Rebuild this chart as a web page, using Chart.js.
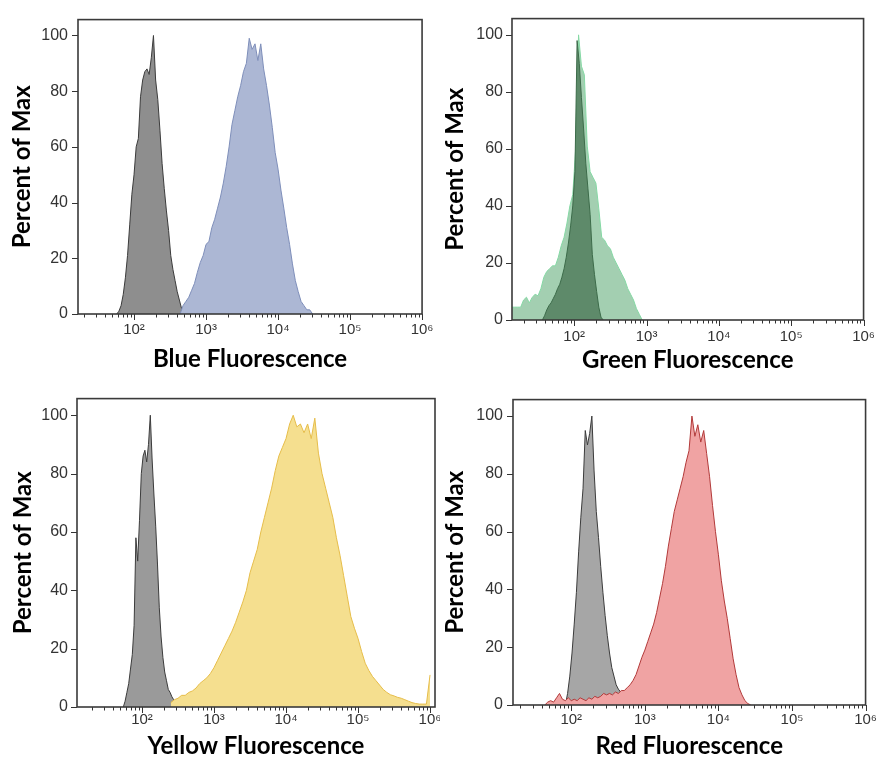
<!DOCTYPE html>
<html><head><meta charset="utf-8">
<script src="https://cdn.jsdelivr.net/npm/chart.js@4.4.1/dist/chart.umd.min.js"></script>
<style>
html,body{margin:0;padding:0;background:#fff;}
body{width:883px;height:761px;position:relative;overflow:hidden;}
canvas{position:absolute;display:block;}
</style></head><body>
<canvas id="c1" width="440" height="380" style="left:0;top:0;width:440px;height:380px"></canvas>
<canvas id="c2" width="443" height="380" style="left:440px;top:0;width:443px;height:380px"></canvas>
<canvas id="c3" width="440" height="381" style="left:0;top:380px;width:440px;height:381px"></canvas>
<canvas id="c4" width="443" height="381" style="left:440px;top:380px;width:443px;height:381px"></canvas>
<script>
// ---- tick labels ----
const xTickExponents = [2, 3, 4, 5, 6];
const xTickLabels = ['10²', '10³', '10⁴', '10⁵', '10⁶'];
const yTickValues = [0, 20, 40, 60, 80, 100];
const yTitle = 'Percent of Max';
const xTitles = ['Blue Fluorescence', 'Green Fluorescence', 'Yellow Fluorescence', 'Red Fluorescence'];

// ---- histogram bins: first bin (log10 of fluorescence), bin width (log10), percent of max ----
const blueCtrlBin = [1.76, 0.03];
const blueCtrlPct = [0, 1, 3, 7, 13, 21, 32, 43, 50, 60, 63, 78, 84, 87, 88, 86, 92, 100, 84, 77, 66, 54, 45, 37, 30, 21, 16, 12, 8, 5, 2, 0.5, 0];
const blueSampleBin = [2.64, 0.04];
const blueSamplePct = [0, 3, 4.5, 6, 8.5, 11, 15, 18.5, 21, 25, 26, 31, 34, 38, 42, 47, 53, 60, 68, 73, 78, 82, 87, 90, 99, 95, 97, 91, 97, 88, 82, 75, 67, 58, 52, 44.5, 38, 31, 25, 18, 12, 8, 4.5, 3, 1.5, 1.5, 0];

const greenCtrlBin = [1.56, 0.03];
const greenCtrlPct = [0, 1.5, 3.5, 5, 6, 7.5, 9, 11, 12.5, 15, 18, 22, 27, 33, 40, 52, 98, 90, 78, 67, 55, 46, 37, 23, 16, 10, 4.5, 1, 0];
const greenSampleBin = [1.14, 0.04];
const greenSamplePct = [4.5, 4.5, 4.5, 4.5, 7, 8, 6, 8, 9, 8.5, 11, 15, 17, 18, 19, 19, 22, 26, 29, 34, 40, 44, 60, 100, 89, 86, 61, 52, 50, 48, 39, 29, 28, 26, 25, 22, 20, 18, 16, 14, 11, 9, 7, 4, 2, 0];

const yellowCtrlBin = [1.74, 0.025];
const yellowCtrlPct = [0, 2, 5, 8, 13, 18, 28, 58, 50, 64, 80, 86, 88, 84, 90, 100, 85, 73, 62, 49, 34, 24, 17, 12, 9, 6, 5, 3.5, 2.5, 1.5, 0.5, 0];
const yellowSampleBin = [2.40, 0.05];
const yellowSamplePct = [1.5, 2.5, 3, 4, 4, 5, 5.5, 6.5, 8, 9, 10, 11.5, 13.5, 16, 18.5, 21, 23.5, 26, 29, 32.5, 36, 40, 46, 50, 54, 60, 65, 70, 75, 81, 86, 89, 92, 97, 100, 96, 97, 94, 97, 92, 99, 87, 80, 75, 70, 65, 58, 52, 45, 38, 31, 27, 23.5, 19, 15, 12.5, 10.5, 9, 7.5, 6, 5, 4.2, 3.8, 3.3, 3, 2.5, 2, 1.5, 1.2, 1, 1, 1, 11];

const redCtrlBin = [1.92, 0.03];
const redCtrlPct = [0, 4, 10, 18, 28, 39, 53, 65, 75, 95, 90, 94, 100, 81, 67, 58, 48, 39, 31, 24, 18, 13, 10, 7, 5.5, 4.5, 3.5, 2, 0];
const redSampleBin = [1.64, 0.04];
const redSamplePct = [0, 1, 1.5, 1, 2.5, 4, 2, 1.5, 2.5, 1.5, 2, 1.5, 2.5, 2, 1.5, 2.5, 2, 3, 2.5, 3, 4, 3.5, 4, 3.5, 4.5, 4, 5, 5, 6, 7, 8.5, 10.5, 13.5, 16.5, 19, 22, 25, 28, 32, 37, 42, 48, 55, 61, 67, 71, 75, 79, 84, 88, 100, 93, 97, 91, 95, 87, 79, 69, 60, 52, 43, 36, 30, 23, 16, 10.5, 6, 3.5, 1.5, 0.5, 0];

function bins(bin, pct) {
  return pct.map((v, i) => ({ x: Math.pow(10, bin[0] + i * bin[1]), y: v }));
}
function isPow10(v) { const e = Math.log10(v); return Math.abs(e - Math.round(e)) < 1e-6; }
function isDecadeStep(v) {
  const s = v / Math.pow(10, Math.floor(Math.log10(v) + 1e-9));
  return Math.abs(s - Math.round(s)) < 1e-6;
}
function xLabel(v) {
  if (!isPow10(v)) return '';
  const i = xTickExponents.indexOf(Math.round(Math.log10(v)));
  return i < 0 ? '' : xTickLabels[i];
}

const frameTicks = {
  id: 'frameTicks',
  afterDraw(chart) {
    const { ctx, chartArea: a, scales: { x, y } } = chart;
    ctx.save();
    ctx.strokeStyle = '#333';
    ctx.lineWidth = 1;
    ctx.beginPath();
    x.ticks.forEach(t => {
      if (!isDecadeStep(t.value) || t.value <= x.min || t.value > x.max * 1.0001) return;
      const px = Math.round(x.getPixelForValue(t.value)) + 0.5;
      const len = isPow10(t.value) ? 6 : 3.5;
      ctx.moveTo(px, a.bottom);
      ctx.lineTo(px, a.bottom + len);
    });
    y.ticks.forEach(t => {
      const py = Math.round(y.getPixelForValue(t.value)) + 0.5;
      ctx.moveTo(a.left - 6, py);
      ctx.lineTo(a.left, py);
    });
    ctx.stroke();
    ctx.strokeStyle = '#3a3a3a';
    ctx.lineWidth = 1.6;
    ctx.strokeRect(a.left, a.top, a.right - a.left, a.bottom - a.top);
    ctx.restore();
  }
};

function histDataset(data, fill, line, order) {
  return { data, backgroundColor: fill, borderColor: line, borderWidth: 1, fill: 'origin',
           pointRadius: 0, tension: 0, order };
}

function makeChart(id, cfg) {
  new Chart(document.getElementById(id), {
    type: 'line',
    data: { datasets: cfg.datasets },
    options: {
      responsive: false, animation: false, events: [],
      layout: { padding: cfg.pad },
      plugins: { legend: { display: false }, tooltip: { enabled: false } },
      scales: {
        x: {
          type: 'logarithmic', min: cfg.xMin, max: cfg.xMax,
          grid: { display: false, drawTicks: false }, border: { display: false },
          ticks: { autoSkip: false, maxRotation: 0, minRotation: 0, padding: cfg.xTickPad,
                   color: '#333', font: { family: 'Liberation Sans', size: 15 }, callback: v => xLabel(v) },
          title: { display: true, text: cfg.xTitle, color: '#000',
                   font: { family: 'Lato', weight: 'bold', size: 24 }, padding: { top: 0, bottom: cfg.xTitlePad } },
          afterFit: s => { s.height = cfg.xH; }
        },
        y: {
          min: 0, max: 105.7,
          grid: { display: false, drawTicks: false }, border: { display: false },
          afterBuildTicks: s => { s.ticks = yTickValues.map(v => ({ value: v })); },
          ticks: { padding: cfg.yTickPad, color: '#333', font: { family: 'Liberation Sans', size: 16 } },
          title: { display: true, text: yTitle, color: '#000',
                   font: { family: 'Lato', weight: 'bold', size: 24 }, padding: { top: cfg.yTitlePad, bottom: 0 } },
          afterFit: s => { s.width = cfg.yW; }
        }
      }
    },
    plugins: [frameTicks]
  });
}

const grayLine = '#3c3c3c';

makeChart('c1', {
  pad: { left: 0, top: 13, right: 12, bottom: 0 }, yW: 78, xH: 66,
  yTickPad: 10, yTitlePad: 7.6, xTickPad: 6.5, xTitlePad: 6.6,
  xMin: Math.pow(10, 1.222), xMax: 1e6, xTitle: xTitles[0],
  datasets: [
    histDataset(bins(blueSampleBin, blueSamplePct), '#acb7d4', '#7f8fba', 0),
    histDataset(bins(blueCtrlBin, blueCtrlPct), '#8e8e8e', grayLine, 1)
  ]
});
makeChart('c2', {
  pad: { left: 0, top: 12, right: 15, bottom: 0 }, yW: 72, xH: 60,
  yTickPad: 9, yTitlePad: 0.6, xTickPad: 8, xTitlePad: 5.6,
  xMin: Math.pow(10, 1.14), xMax: 1e6, xTitle: xTitles[1],
  datasets: [
    histDataset(bins(greenCtrlBin, greenCtrlPct), 'rgba(88,132,100,0.92)', '#3d6b4a', 0),
    histDataset(bins(greenSampleBin, greenSamplePct), '#a3cfb1', '#86d9a5', 1)
  ]
});
makeChart('c3', {
  pad: { left: 0, top: 17, right: 5, bottom: 0 }, yW: 77, xH: 54,
  yTickPad: 9, yTitlePad: 8.6, xTickPad: 4, xTitlePad: 0,
  xMin: Math.pow(10, 1.097), xMax: Math.pow(10, 6.069), xTitle: xTitles[2],
  datasets: [
    histDataset(bins(yellowSampleBin, yellowSamplePct), '#f5df8f', '#e6bd4a', 0),
    histDataset(bins(yellowCtrlBin, yellowCtrlPct), '#9a9a9a', grayLine, 1)
  ]
});
makeChart('c4', {
  pad: { left: 0, top: 15, right: 13, bottom: 0 }, yW: 73, xH: 56,
  yTickPad: 10, yTitlePad: 0.6, xTickPad: 6, xTitlePad: 0,
  xMin: Math.pow(10, 1.208), xMax: 1e6, xTitle: xTitles[3],
  datasets: [
    histDataset(bins(redSampleBin, redSamplePct), '#f0a3a3', '#b23a3a', 0),
    histDataset(bins(redCtrlBin, redCtrlPct), '#a6a6a6', grayLine, 1)
  ]
});
</script>
</body></html>
